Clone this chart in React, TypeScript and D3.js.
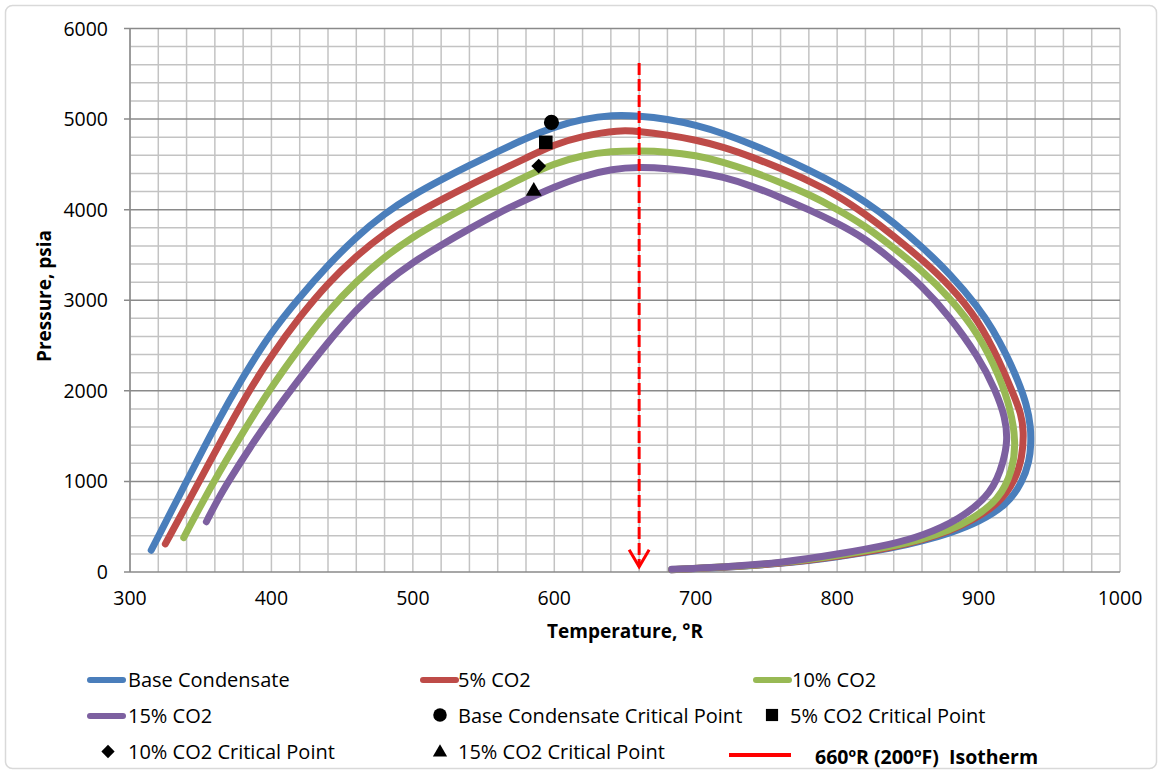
import React from "react";
import * as d3 from "d3";

const W = 1162;
const H = 774;

// axis ticks
const xTicks = [300, 400, 500, 600, 700, 800, 900, 1000];
const yTicks = [0, 1000, 2000, 3000, 4000, 5000, 6000];

// phase envelopes, [temperature °R, pressure psia]
const baseCondensate: [number, number][] = [
  [315, 240], [340, 1000], [360, 1610], [380, 2160], [400, 2650], [418, 3000], [440, 3390],
  [460, 3700], [480, 3960], [500, 4160], [520, 4330], [540, 4490], [560, 4640], [580, 4790],
  [600, 4915], [620, 5000], [641, 5045], [660, 5035], [680, 5000], [700, 4935], [720, 4840],
  [740, 4720], [760, 4585], [780, 4440], [800, 4280], [820, 4090], [840, 3860], [860, 3590],
  [880, 3290], [900, 2920], [910, 2680], [920, 2390], [928, 2110], [934, 1850], [937, 1600],
  [937, 1400], [936, 1230], [931, 990], [920, 740], [900, 550], [880, 430], [860, 340],
  [840, 265], [800, 165], [760, 90], [720, 50], [683, 25],
];
const co2_5: [number, number][] = [
  [325, 310], [349, 1000], [362, 1380], [384, 2000], [400, 2390], [420, 2820], [440, 3190],
  [460, 3490], [480, 3740], [500, 3940], [520, 4110], [540, 4270], [560, 4420], [580, 4570],
  [600, 4720], [620, 4815], [646, 4880], [660, 4865], [680, 4825], [700, 4770], [720, 4690],
  [740, 4580], [760, 4455], [780, 4320], [800, 4160], [820, 3950], [840, 3710], [860, 3450],
  [880, 3160], [900, 2780], [915, 2320], [925, 1950], [930, 1750], [932, 1560], [931, 1270],
  [926, 1015], [915, 760], [895, 565], [880, 455], [860, 355], [840, 275], [800, 170],
  [760, 93], [720, 52], [683, 26],
];
const co2_10: [number, number][] = [
  [338, 380], [359, 1000], [381, 1570], [398, 2000], [420, 2480], [440, 2880], [460, 3210],
  [480, 3480], [500, 3700], [520, 3880], [540, 4050], [560, 4210], [580, 4370], [600, 4510],
  [620, 4600], [640, 4645], [660, 4650], [680, 4640], [700, 4600], [719, 4529], [740, 4420],
  [759, 4308], [780, 4170], [799, 4014], [820, 3820], [839, 3590], [860, 3330], [879, 3040],
  [900, 2634], [915, 2155], [923, 1780], [926.5, 1420], [924, 1126], [915, 800], [893, 560],
  [880, 465], [860, 360], [840, 285], [800, 178], [760, 97], [720, 54], [683, 27],
];
const co2_15: [number, number][] = [
  [354, 555], [362, 800], [370, 1010], [385, 1380], [400, 1720], [417, 2080], [440, 2540],
  [460, 2900], [480, 3190], [500, 3420], [520, 3610], [540, 3790], [560, 3960], [580, 4110],
  [600, 4250], [620, 4370], [641, 4450], [660, 4470], [680, 4456], [700, 4420], [719, 4363],
  [740, 4260], [759, 4142], [780, 4000], [799, 3860], [820, 3680], [839, 3444], [860, 3160],
  [879, 2830], [900, 2376], [912, 2009], [919, 1700], [920.5, 1457], [918, 1236], [910, 870],
  [886, 574], [860, 400], [840, 310], [800, 195], [760, 100], [720, 55], [683, 30],
];

const seriesNames = ["Base Condensate", "5% CO2", "10% CO2", "15% CO2"];
const seriesData = [baseCondensate, co2_5, co2_10, co2_15];
const seriesColors = ["#4a7ebb", "#be4b48", "#98b954", "#7d60a0"];

// critical points
const criticalNames = [
  "Base Condensate Critical Point",
  "5% CO2 Critical Point",
  "10% CO2 Critical Point",
  "15% CO2 Critical Point",
];
const criticalT = [598, 594, 589, 585.5];
const criticalP = [4963, 4743, 4481, 4216];

// isotherm
const isothermT = 660;
const isothermTopP = 5620;
const isothermTipP = 58;
const isothermLabel = "660ºR (200ºF)  Isotherm";

const font = "'Open Sans', sans-serif";

const x = d3.scaleLinear().domain([300, 1000]).range([130, 1120]);
const y = d3.scaleLinear().domain([0, 6000]).range([572, 28.5]);

const envelope = d3
  .line<[number, number]>()
  .x(d => x(d[0]))
  .y(d => y(d[1]))
  .curve(d3.curveBasis);

// marker shapes: circle, square, diamond (rotated square), triangle
function markerPath(i: number, big: boolean) {
  const k = big ? 1 : 0.8;
  if (i === 0) return d3.symbol(d3.symbolCircle, 180 * k)()!;
  if (i === 1) return d3.symbol(d3.symbolSquare, 185 * k)()!;
  if (i === 2) return d3.symbol(d3.symbolSquare, 110 * k)()!;
  return d3.symbol(d3.symbolTriangle, 110 * k)()!;
}

function Marker({ i, cx, cy, big }: { i: number; cx: number; cy: number; big: boolean }) {
  const rot = i === 2 ? " rotate(45)" : "";
  const dy = i === 3 ? 1 : 0;
  return <path d={markerPath(i, big)} transform={`translate(${cx},${cy + dy})${rot}`} fill="#000" />;
}

export default function App() {
  const vLines = d3.range(300, 1001, 20);
  const hLines = d3.range(0, 6001, 200);
  const ix = x(isothermT);
  const tipY = y(isothermTipP);

  // legend layout
  const lineLegend = [
    { sx: 87, tx: 128, ty: 687, i: 0 },
    { sx: 420, tx: 458, ty: 687, i: 1 },
    { sx: 753, tx: 792, ty: 687, i: 2 },
    { sx: 87, tx: 128, ty: 723, i: 3 },
  ];
  const markerLegend = [
    { mx: 440, my: 715, tx: 458, ty: 723, i: 0 },
    { mx: 772, my: 715, tx: 790, ty: 723, i: 1 },
    { mx: 108, my: 751.5, tx: 128, ty: 758.5, i: 2 },
    { mx: 440, my: 751.5, tx: 458, ty: 758.5, i: 3 },
  ];

  return (
    <>
      <style>{`body{margin:0;background:#fff}`}</style>
      <svg width={W} height={H} style={{ display: "block" }} fontFamily={font}>
        <rect x={0} y={0} width={W} height={H} fill="#fff" />
        <rect x={5.5} y={5.5} width={1151} height={763} rx={7} fill="#fff" stroke="#d9d9d9" strokeWidth={1.5} />

        {/* grid */}
        <g>
          {vLines.map(v => (
            <line key={"v" + v} x1={x(v)} x2={x(v)} y1={y(6000)} y2={y(0)} stroke="#c3c3c3" strokeWidth={1.5} />
          ))}
          {hLines.filter(v => v % 1000 !== 0).map(v => (
            <line key={"h" + v} x1={x(300)} x2={x(1000)} y1={y(v)} y2={y(v)} stroke="#c3c3c3" strokeWidth={1.5} />
          ))}
          {yTicks.map(v => (
            <line key={"m" + v} x1={x(300) - 6} x2={x(1000)} y1={y(v)} y2={y(v)} stroke="#8a8a8a" strokeWidth={1.5} />
          ))}
          <line x1={x(300)} x2={x(300)} y1={y(6000)} y2={y(0)} stroke="#8a8a8a" strokeWidth={1.5} />
        </g>

        {/* tick labels */}
        <g fontSize={19.5} fill="#000">
          {yTicks.map(v => (
            <text key={"yt" + v} x={108} y={y(v) + 7} textAnchor="end">{v}</text>
          ))}
          {xTicks.map(v => (
            <text key={"xt" + v} x={x(v)} y={605} textAnchor="middle">{v}</text>
          ))}
        </g>

        {/* axis titles */}
        <text x={625} y={638} textAnchor="middle" fontWeight="bold" fontSize={19}>Temperature, °R</text>
        <text transform="translate(51,296) rotate(-90)" textAnchor="middle" fontWeight="bold" fontSize={19}>Pressure, psia</text>

        {/* envelopes */}
        <g fill="none" strokeWidth={7} strokeLinecap="round" strokeLinejoin="round">
          {seriesData.map((d, i) => (
            <path key={seriesNames[i]} d={envelope(d)!} stroke={seriesColors[i]} />
          ))}
        </g>

        {/* isotherm */}
        <g stroke="#ff0000" strokeWidth={3} fill="none">
          <line x1={ix} x2={ix} y1={y(isothermTopP)} y2={tipY} strokeDasharray="12 4" />
          <polyline points={`${ix - 10},${tipY - 17} ${ix},${tipY} ${ix + 10},${tipY - 17}`} strokeLinejoin="miter" />
        </g>

        {/* critical points */}
        {criticalT.map((t, i) => (
          <Marker key={criticalNames[i]} i={i} cx={x(t)} cy={y(criticalP[i])} big={true} />
        ))}

        {/* legend */}
        <g fontSize={20} fill="#000">
          {lineLegend.map(l => (
            <g key={"ll" + l.i}>
              <line x1={l.sx + 3} x2={l.sx + 36} y1={l.ty - 7} y2={l.ty - 7} stroke={seriesColors[l.i]} strokeWidth={6} strokeLinecap="round" />
              <text x={l.tx} y={l.ty}>{seriesNames[l.i]}</text>
            </g>
          ))}
          {markerLegend.map(m => (
            <g key={"ml" + m.i}>
              <Marker i={m.i} cx={m.mx} cy={m.my} big={false} />
              <text x={m.tx} y={m.ty}>{criticalNames[m.i]}</text>
            </g>
          ))}
          <line x1={729} x2={791} y1={755} y2={755} stroke="#ff0000" strokeWidth={4} />
          <text x={815} y={763.5} fontWeight="bold" fontSize={19.5} style={{ whiteSpace: "pre" }}>{isothermLabel}</text>
        </g>
      </svg>
    </>
  );
}
